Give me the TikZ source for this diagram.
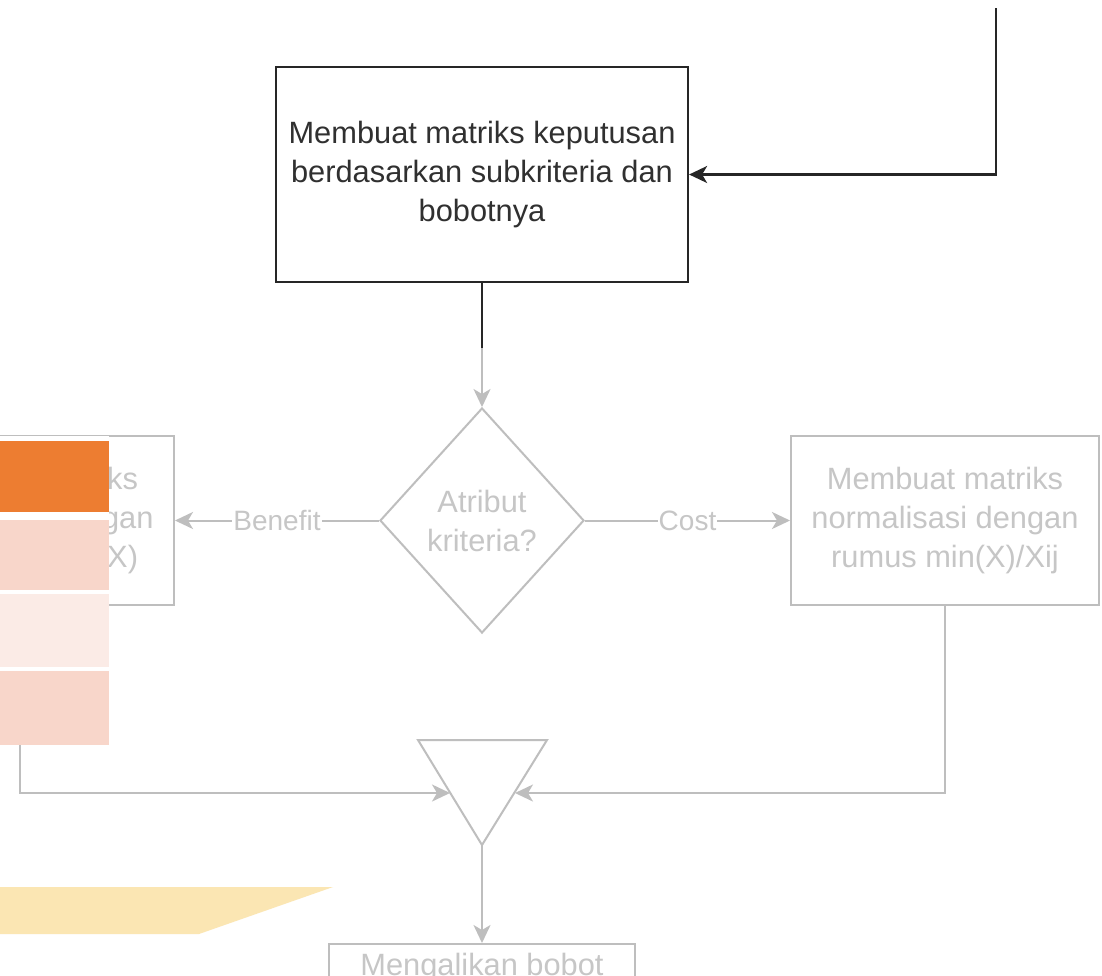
\documentclass[tikz,border=0pt]{standalone}
\usepackage{fontspec}
\setmainfont{Liberation Sans}
\usetikzlibrary{shapes.geometric,arrows.meta}
\definecolor{ink}{HTML}{262626}
\definecolor{inktext}{HTML}{303030}
\definecolor{lineGray}{HTML}{BEBEBE}
\definecolor{textGray}{HTML}{C6C6C6}
\definecolor{accOrange}{HTML}{ED7D31}
\definecolor{accPeach}{HTML}{F8D6CA}
\definecolor{accPale}{HTML}{FBEBE6}
\definecolor{accSand}{HTML}{FBE6B3}
\tikzset{
  bodyfont/.style={font=\fontsize{30.8}{39}\selectfont},
  procbox/.style={draw, rectangle, align=center, inner sep=0pt, bodyfont},
  darkbox/.style={procbox, draw=ink, text=inktext, line width=2.2pt},
  fadebox/.style={procbox, draw=lineGray, text=textGray, line width=2pt},
  decision/.style={diamond, draw=lineGray, text=textGray, line width=2pt,
    align=center, inner sep=0pt, bodyfont},
  tip/.style={-{Stealth[length=18pt,width=17pt,inset=5pt]}},
  darkline/.style={draw=ink, line width=2.2pt},
  fadeline/.style={draw=lineGray, line width=2pt},
  edgelabel/.style={fill=white, text=textGray, inner sep=1pt,
    font=\fontsize{28}{32}\selectfont},
}
\begin{document}
\begin{tikzpicture}[x=1pt,y=-1pt]
\useasboundingbox (0,0) rectangle (1102,975);
\clip (0,0) rectangle (1102,975);
\fill[white] (0,0) rectangle (1102,975);

% process steps
\node[darkbox, minimum width=412pt, minimum height=215pt] (matrix) at (482,174.5)
  {Membuat matriks keputusan\\berdasarkan subkriteria dan\\bobotnya};
\node[decision, minimum width=204pt, minimum height=225pt] (attr) at (482,520.5)
  {Atribut\\kriteria?};
\node[fadebox, minimum width=308pt, minimum height=169pt] (costnorm) at (945,520.5)
  {Membuat matriks\\normalisasi dengan\\rumus min(X)/Xij};
\node[fadebox, minimum width=308pt, minimum height=169pt] (bennorm) at (20,520.5)
  {Membuat matriks\\normalisasi dengan\\rumus Xij/max(X)};
\node[fadebox, minimum width=306pt, minimum height=160pt, anchor=north] (weight) at (482,943)
  {};
\node[text=textGray, bodyfont, anchor=north] (weighttext) at (482,950) {Mengalikan bobot};

% merge triangle
\coordinate (mergeL) at (418,740);
\coordinate (mergeR) at (547,740);
\coordinate (mergeB) at (482,845);
\draw[fadeline, line join=miter] (mergeL) -- (mergeR) -- (mergeB) -- cycle;
\coordinate (mergeInL) at (450,793);
\coordinate (mergeInR) at (515,793);

% connectors
\coordinate (feed) at (996,8);
\draw[darkline, tip] (feed) |- (matrix.east);
\coordinate (fadeStart) at (482,348);
\draw[darkline] (matrix.south) -- (fadeStart);
\draw[fadeline, tip] (fadeStart) -- (attr.north);
\draw[fadeline, tip] (attr.east) -- node[edgelabel] (costlbl) {Cost} (costnorm.west);
\draw[fadeline, tip] (attr.west) -- node[edgelabel] (benlbl) {Benefit} (bennorm.east);
\draw[fadeline, tip] (costnorm.south) |- (mergeInR);
\draw[fadeline, tip] (bennorm.south) |- (mergeInL);
\draw[fadeline, tip] (mergeB) -- (weight.north);

% colour bars on a white panel, and ribbon, laid over the chart
\fill[white] (0,436) rectangle (109,745);
\fill[accOrange] (0,441) rectangle (109,512);
\fill[accPeach] (0,520) rectangle (109,590);
\fill[accPale] (0,594) rectangle (109,667);
\fill[accPeach] (0,671) rectangle (109,745);
\fill[accSand] (0,887) -- (333,887) -- (199,934) -- (0,934) -- cycle;
\end{tikzpicture}
\end{document}
